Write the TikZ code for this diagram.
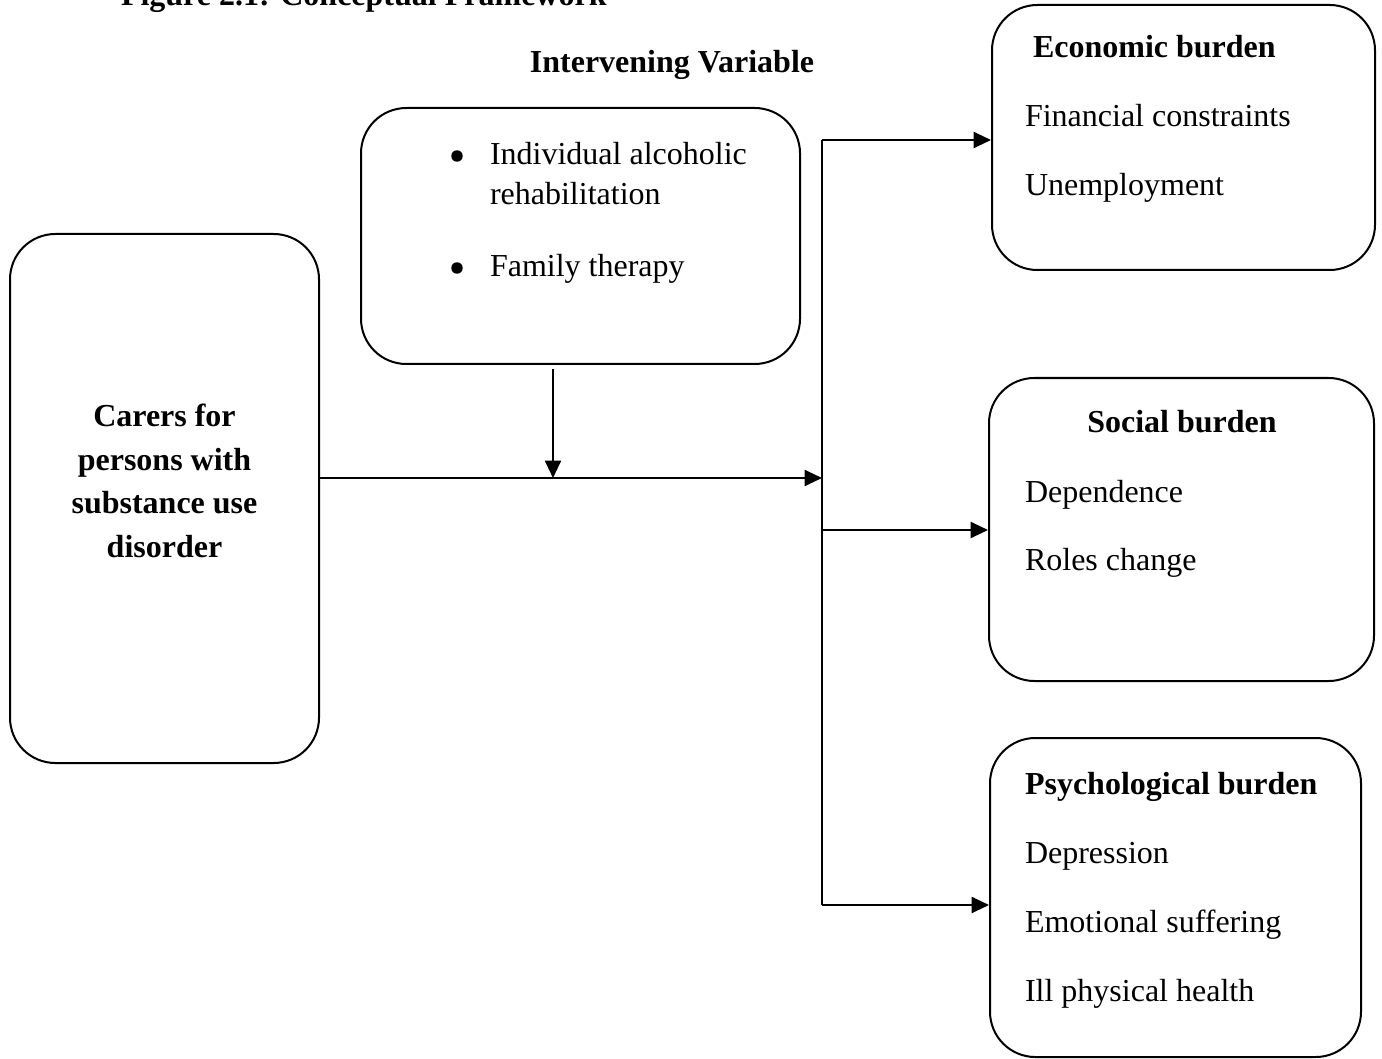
\documentclass[tikz,border=0pt]{standalone}
\usepackage{fontspec}
\setmainfont{Liberation Serif}
\usetikzlibrary{arrows.meta,calc}
\tikzset{
    box/.style={draw,line width=1.5pt,rounded corners=34pt,inner sep=0pt},
    arr/.style={-{Triangle[length=13pt,width=12pt]}},
    txt/.style={anchor=base west,inner sep=0pt,font=\fontsize{24}{29}\selectfont},
    hd/.style={txt,font=\fontsize{24}{29}\selectfont\bfseries}
}
\begin{document}
\begin{tikzpicture}[x=0.75pt,y=-0.75pt,line width=1.5pt]
\useasboundingbox (0,0) rectangle (1382,1059);
% boxes
\node[box,minimum width=231.75pt,minimum height=396.75pt] (carer) at (164.5,498.5) {};
\node[box,minimum width=329.25pt,minimum height=192pt] (interv) at (580.5,236) {};
\node[box,minimum width=287.25pt,minimum height=198.75pt] (econ) at (1183.5,137.5) {};
\node[box,minimum width=288.75pt,minimum height=227.25pt] (social) at (1181.5,529.5) {};
\node[box,minimum width=278.25pt,minimum height=239.25pt] (psych) at (1175.5,897.5) {};
% texts
\node[hd] (title) at (120,6) {Figure 2.1: Conceptual Framework};
\node[hd,anchor=base] (ivtitle) at (672,73) {Intervening Variable};
\node[align=center,inner sep=0pt,font=\fontsize{24}{32.6}\selectfont\bfseries] (carertxt) at (164.5,481)
    {Carers for\\persons with\\substance use\\disorder};
\node[txt] (iv1) at (489,165) {Individual alcoholic};
\node[txt] (iv1b) at (489,205) {rehabilitation};
\node[txt] (iv2) at (489,277) {Family therapy};
\fill (457,156) circle (4.3pt) (457,268) circle (4.3pt);
\node[hd] (econhd) at (1032,58) {Economic burden};
\node[txt] (econ1) at (1024,127) {Financial constraints};
\node[txt] (econ2) at (1024,196) {Unemployment};
\node[hd,anchor=base] (sochd) at (1182,432) {Social burden};
\node[txt] (soc1) at (1024,502) {Dependence};
\node[txt] (soc2) at (1024,570) {Roles change};
\node[hd] (psyhd) at (1024,794) {Psychological burden};
\node[txt] (psy1) at (1024,863) {Depression};
\node[txt] (psy2) at (1024,932) {Emotional suffering};
\node[txt] (psy3) at (1024,1001) {Ill physical health};
% connectors
\coordinate (ttop) at (822,140);
\coordinate (tmid) at (822,478);
\coordinate (tsoc) at (822,530);
\coordinate (tbot) at (822,905);
\coordinate (join) at (553,478);
\draw (ttop) -- (tbot);
\draw[arr] (carer.east |- tmid) -- (tmid);
\draw[arr] ($(join |- interv.south)+(0,4)$) -- (join);
\draw[arr] (ttop) -- (econ.west |- ttop);
\draw[arr] (tsoc) -- (social.west |- tsoc);
\draw[arr] (tbot) -- (psych.west |- tbot);
\end{tikzpicture}
\end{document}
